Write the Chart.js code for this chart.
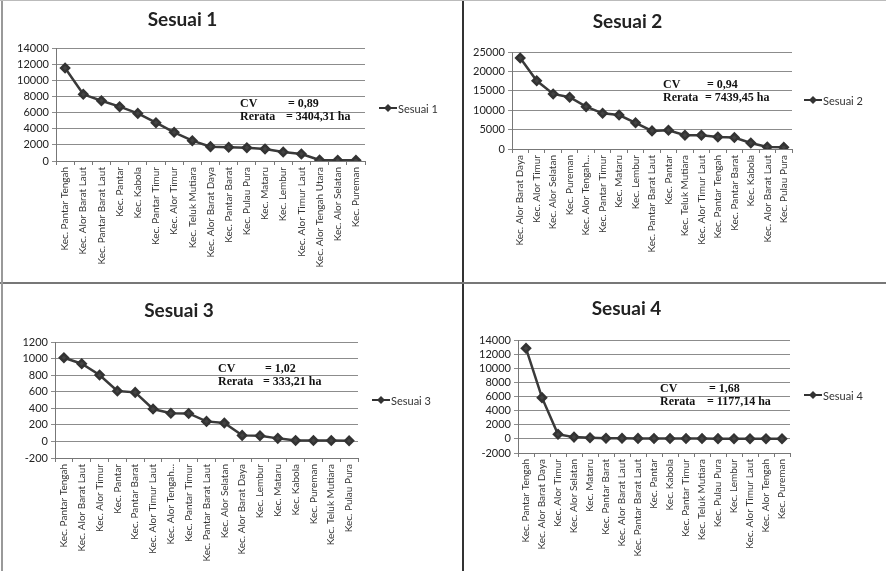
<!DOCTYPE html>
<html>
<head>
<meta charset="utf-8">
<script src="https://cdn.jsdelivr.net/npm/chart.js@4/dist/chart.umd.min.js"></script>
<style>
body { margin: 0; background: #fff; width: 886px; height: 571px; overflow: hidden; position: relative; }
.panel { position: absolute; }
.panel canvas { display: block; }
.line { position: absolute; background: #555; }
</style>
</head>
<body>
<div class="panel" style="left:0;top:0"><canvas id="c1" width="463" height="283"></canvas></div>
<div class="panel" style="left:463px;top:0"><canvas id="c2" width="423" height="283"></canvas></div>
<div class="panel" style="left:0;top:283px"><canvas id="c3" width="463" height="288"></canvas></div>
<div class="panel" style="left:463px;top:283px"><canvas id="c4" width="423" height="288"></canvas></div>
<div class="line" style="left:462px;top:0;width:2px;height:571px;background:#333"></div>
<div class="line" style="left:0;top:282px;width:886px;height:2px;background:#777"></div>
<div class="line" style="left:1px;top:0;width:2px;height:571px;background:#999"></div>
<div class="line" style="left:0;top:0;width:886px;height:1px;background:#bbb"></div>
<script>
// Sesuai 1
const kec1 = ['Kec. Pantar Tengah', 'Kec. Alor Barat Laut', 'Kec. Pantar Barat Laut', 'Kec. Pantar', 'Kec. Kabola',
    'Kec. Pantar Timur', 'Kec. Alor Timur', 'Kec. Teluk Mutiara', 'Kec. Alor Barat Daya', 'Kec. Pantar Barat',
    'Kec. Pulau Pura', 'Kec. Mataru', 'Kec. Lembur', 'Kec. Alor Timur Laut', 'Kec. Alor Tengah Utara',
    'Kec. Alor Selatan', 'Kec. Pureman'];
const sesuai1 = [11520, 8260, 7470, 6730, 5900, 4750, 3550, 2520, 1780, 1700, 1650, 1490, 1110, 870, 120, 100, 80];

// Sesuai 2
const kec2 = ['Kec. Alor Barat Daya', 'Kec. Alor Timur', 'Kec. Alor Selatan', 'Kec. Pureman', 'Kec. Alor Tengah...',
    'Kec. Pantar Timur', 'Kec. Mataru', 'Kec. Lembur', 'Kec. Pantar Barat Laut', 'Kec. Pantar',
    'Kec. Teluk Mutiara', 'Kec. Alor Timur Laut', 'Kec. Pantar Tengah', 'Kec. Pantar Barat', 'Kec. Kabola',
    'Kec. Alor Barat Laut', 'Kec. Pulau Pura'];
const sesuai2 = [23470, 17575, 14200, 13340, 10900, 9190, 8750, 6750, 4670, 4850, 3560, 3560, 3120, 2950, 1560, 520, 430];

// Sesuai 3
const kec3 = ['Kec. Pantar Tengah', 'Kec. Alor Barat Laut', 'Kec. Alor Timur', 'Kec. Pantar', 'Kec. Pantar Barat',
    'Kec. Alor Timur Laut', 'Kec. Alor Tengah...', 'Kec. Pantar Timur', 'Kec. Pantar Barat Laut', 'Kec. Alor Selatan',
    'Kec. Alor Barat Daya', 'Kec. Lembur', 'Kec. Mataru', 'Kec. Kabola', 'Kec. Pureman',
    'Kec. Teluk Mutiara', 'Kec. Pulau Pura'];
const sesuai3 = [1010, 938, 801, 608, 592, 391, 339, 338, 242, 222, 73, 68, 37, 12, 10, 10, 8];

// Sesuai 4
const kec4 = ['Kec. Pantar Tengah', 'Kec. Alor Barat Daya', 'Kec. Alor Timur', 'Kec. Alor Selatan', 'Kec. Mataru',
    'Kec. Pantar Barat', 'Kec. Alor Barat Laut', 'Kec. Pantar Barat Laut', 'Kec. Pantar', 'Kec. Kabola',
    'Kec. Pantar Timur', 'Kec. Teluk Mutiara', 'Kec. Pulau Pura', 'Kec. Lembur', 'Kec. Alor Timur Laut',
    'Kec. Alor Tengah', 'Kec. Pureman'];
const sesuai4 = [12830, 5840, 650, 250, 150, 100, 80, 70, 60, 50, 45, 40, 35, 30, 25, 20, 10];

// CV dan rerata
const cvText = ['0,89', '0,94', '1,02', '1,68'];
const rerataText = ['3404,31', '7439,45', '333,21', '1177,14'];

// 图例 + 注释
const notesPlugin = {
    id: 'notes',
    afterDraw(chart, args, opts) {
        const ctx = chart.ctx;
        const a = chart.chartArea;
        ctx.save();
        // 注释文字
        ctx.fillStyle = '#111';
        ctx.font = 'bold 12px "Liberation Serif"';
        ctx.textBaseline = 'middle';
        ctx.textAlign = 'left';
        ctx.fillText('CV', opts.nx, opts.ny);
        ctx.fillText('= ' + opts.cv, opts.nx2, opts.ny);
        ctx.fillText('Rerata', opts.nx, opts.ny + 13);
        ctx.fillText('= ' + opts.rerata + ' ha', opts.nx2 - 2, opts.ny + 13);
        // 图例
        const lx = a.right + opts.lgap;
        const ly = opts.ly;
        ctx.strokeStyle = '#333';
        ctx.lineWidth = 2;
        ctx.beginPath();
        ctx.moveTo(lx, ly);
        ctx.lineTo(lx + 18, ly);
        ctx.stroke();
        ctx.fillStyle = '#333';
        ctx.beginPath();
        ctx.moveTo(lx + 9, ly - 4);
        ctx.lineTo(lx + 13, ly);
        ctx.lineTo(lx + 9, ly + 4);
        ctx.lineTo(lx + 5, ly);
        ctx.closePath();
        ctx.fill();
        ctx.fillStyle = '#333';
        ctx.font = '11px Lato';
        ctx.fillText(chart.data.datasets[0].label, lx + 19, ly + 1);
        ctx.restore();
    }
};

function makeChart(id, title, labels, values, c) {
    const ctx = document.getElementById(id);
    return new Chart(ctx, {
        type: 'line',
        data: {
            labels: labels,
            datasets: [{
                label: title,
                data: values,
                borderColor: '#3a3a3a',
                backgroundColor: '#3a3a3a',
                borderWidth: 2.5,
                pointStyle: 'rectRot',
                pointRadius: 4,
                pointBackgroundColor: '#444',
                pointBorderColor: '#333',
                tension: 0
            }]
        },
        options: {
            responsive: false,
            animation: false,
            layout: { padding: { left: 0, right: c.right, top: 0, bottom: 0 } },
            plugins: {
                legend: { display: false },
                tooltip: { enabled: false },
                title: {
                    display: true,
                    text: title,
                    color: '#222',
                    font: { family: 'Lato', size: 19, weight: 'bold', lineHeight: 1.2 },
                    padding: { top: c.titleTop, bottom: c.top - c.titleTop - 22.8 }
                },
                notes: c.notes
            },
            scales: {
                x: {
                    offset: true,
                    grid: { display: true, drawOnChartArea: false, offset: true, tickLength: 4, color: '#777' },
                    border: { color: '#777', width: 1 },
                    ticks: {
                        autoSkip: false, minRotation: 90, maxRotation: 90, padding: 2,
                        color: '#333', font: { family: 'Lato', size: 10 }
                    },
                    afterFit: s => { s.height = c.xh; }
                },
                y: {
                    min: c.min, max: c.max,
                    grid: { color: '#8c8c8c', lineWidth: 1, tickLength: 4 },
                    border: { color: '#777', width: 1 },
                    ticks: {
                        stepSize: c.step, autoSkip: false, color: '#222',
                        font: { family: 'Lato', size: 11 }, padding: 3,
                        callback: v => String(v)
                    },
                    afterFit: s => { s.width = c.yw; }
                }
            }
        },
        plugins: [notesPlugin]
    });
}

makeChart('c1', 'Sesuai 1', kec1, sesuai1, {
    min: 0, max: 14000, step: 2000, yw: 56, right: 98, titleTop: 8, top: 48, xh: 283 - 161,
    notes: { cv: cvText[0], rerata: rerataText[0], nx: 240, nx2: 288, ny: 104, lgap: 14, ly: 108 }
});
makeChart('c2', 'Sesuai 2', kec2, sesuai2, {
    min: 0, max: 25000, step: 5000, yw: 49, right: 94, titleTop: 10, top: 52, xh: 283 - 149,
    notes: { cv: cvText[1], rerata: rerataText[1], nx: 200, nx2: 244, ny: 85, lgap: 12, ly: 100 }
});
makeChart('c3', 'Sesuai 3', kec3, sesuai3, {
    min: -200, max: 1200, step: 200, yw: 55, right: 105, titleTop: 16, top: 59, xh: 288 - 175,
    notes: { cv: cvText[2], rerata: rerataText[2], nx: 218, nx2: 265, ny: 86, lgap: 14, ly: 117 }
});
makeChart('c4', 'Sesuai 4', kec4, sesuai4, {
    min: -2000, max: 14000, step: 2000, yw: 55, right: 96, titleTop: 14, top: 57, xh: 288 - 170,
    notes: { cv: cvText[3], rerata: rerataText[3], nx: 197, nx2: 246, ny: 106, lgap: 14, ly: 112 }
});
</script>
</body>
</html>
